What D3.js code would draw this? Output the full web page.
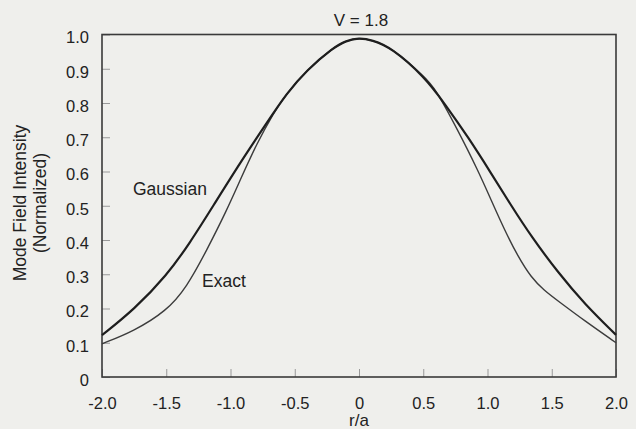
<!DOCTYPE html>
<html>
<head>
<meta charset="utf-8">
<script src="https://cdn.jsdelivr.net/npm/d3@7"></script>
<style>
  html, body { margin: 0; padding: 0; background: #efefec; }
  svg { display: block; }
  text { font-family: "Liberation Sans", Arial, Helvetica, sans-serif; fill: #222; }
</style>
</head>
<body>
<svg id="chart" width="636" height="429"></svg>
<script>
// ---- data ----
const rGaussian = [-2.0, -1.75, -1.497, -1.315, -1.134, -0.926, -0.718, -0.563, -0.407, -0.2, -0.1, 0, 0.1, 0.252, 0.511, 0.667, 0.848, 1.03, 1.185, 1.341, 1.549, 1.756, 2.0];
const gaussian  = [0.122, 0.197, 0.296, 0.392, 0.500, 0.625, 0.742, 0.828, 0.896, 0.962, 0.982, 0.99, 0.984, 0.962, 0.876, 0.798, 0.701, 0.594, 0.500, 0.410, 0.305, 0.213, 0.123];
const rExact    = [-2.0, -1.756, -1.497, -1.341, -1.185, -1.03, -0.926, -0.796, -0.667, -0.563, -0.407, -0.2, -0.1, 0, 0.1, 0.252, 0.511, 0.589, 0.770, 0.926, 1.03, 1.134, 1.237, 1.341, 1.44, 1.549, 1.756, 2.0];
const exact     = [0.097, 0.133, 0.193, 0.262, 0.370, 0.486, 0.574, 0.681, 0.770, 0.828, 0.896, 0.962, 0.982, 0.99, 0.984, 0.962, 0.876, 0.845, 0.720, 0.603, 0.515, 0.428, 0.352, 0.290, 0.253, 0.222, 0.164, 0.100];
const xTicks = [-2.0, -1.5, -1.0, -0.5, 0, 0.5, 1.0, 1.5, 2.0];
const yTicks = [0, 0.1, 0.2, 0.3, 0.4, 0.5, 0.6, 0.7, 0.8, 0.9, 1.0];
const titleText = "V = 1.8";
const xLabel = "r/a";
const yLabel1 = "Mode Field Intensity";
const yLabel2 = "(Normalized)";
const seriesLabels = ["Gaussian", "Exact"];

// ---- layout ----
const svg = d3.select("#chart");
const plotLeft = 102, plotRight = 616, plotTop = 34.5, plotBottom = 377;

const x = d3.scaleLinear().domain([-2, 2]).range([plotLeft, plotRight]);
const y = d3.scaleLinear().domain([0, 1]).range([plotBottom, plotTop]);

const fmt = d => (d === 0 ? "0" : d3.format(".1f")(d).replace("\u2212", "-"));

// x axis (ticks inside)
const xAxis = svg.append("g").attr("transform", `translate(0,${plotBottom})`)
  .call(d3.axisBottom(x).tickValues(xTicks).tickSize(-8).tickPadding(20).tickFormat(fmt));
xAxis.select(".domain").remove();
xAxis.selectAll(".tick line").attr("stroke", "#999").attr("stroke-width", 1);
xAxis.selectAll(".tick text").attr("font-size", 16.5).attr("fill", "#222")
  .attr("font-family", '"Liberation Sans", Arial, sans-serif');

// y axis (ticks inside)
const yAxis = svg.append("g").attr("transform", `translate(${plotLeft},0)`)
  .call(d3.axisLeft(y).tickValues(yTicks).tickSize(-8).tickPadding(13).tickFormat(fmt));
yAxis.select(".domain").remove();
yAxis.selectAll(".tick line").attr("stroke", "#999").attr("stroke-width", 1);
yAxis.selectAll(".tick text").attr("font-size", 16.5).attr("fill", "#222").attr("dy", "0.5em")
  .attr("font-family", '"Liberation Sans", Arial, sans-serif');

// frame
svg.append("rect")
  .attr("x", x(-2)).attr("y", y(1))
  .attr("width", x(2) - x(-2)).attr("height", y(0) - y(1))
  .attr("fill", "none").attr("stroke", "#3a3a3a").attr("stroke-width", 1.6);

// curves
const gData = rGaussian.map((r, i) => ({ r, v: gaussian[i] }));
const eData = rExact.map((r, i) => ({ r, v: exact[i] }));
const line = d3.line().x(d => x(d.r)).y(d => y(d.v)).curve(d3.curveBasis);

svg.append("path").datum(eData).attr("d", line)
  .attr("fill", "none").attr("stroke", "#3c3c3c").attr("stroke-width", 1.4);
svg.append("path").datum(gData).attr("d", line)
  .attr("fill", "none").attr("stroke", "#1e1e1e").attr("stroke-width", 2.2);

// title and labels
svg.append("text").attr("x", 361).attr("y", 26).attr("text-anchor", "middle")
  .attr("font-size", 17).text(titleText);
svg.append("text").attr("x", x(0)).attr("y", 426).attr("text-anchor", "middle")
  .attr("font-size", 17).text(xLabel);
svg.append("text").attr("transform", "translate(25.5,203) rotate(-90)")
  .attr("text-anchor", "middle").attr("font-size", 17.5).text(yLabel1);
svg.append("text").attr("transform", "translate(46,203) rotate(-90)")
  .attr("text-anchor", "middle").attr("font-size", 17.5).text(yLabel2);

svg.append("text").attr("x", 133).attr("y", 195).attr("font-size", 17.5).text(seriesLabels[0]);
svg.append("text").attr("x", 202).attr("y", 287).attr("font-size", 17.5).text(seriesLabels[1]);
</script>
</body>
</html>
